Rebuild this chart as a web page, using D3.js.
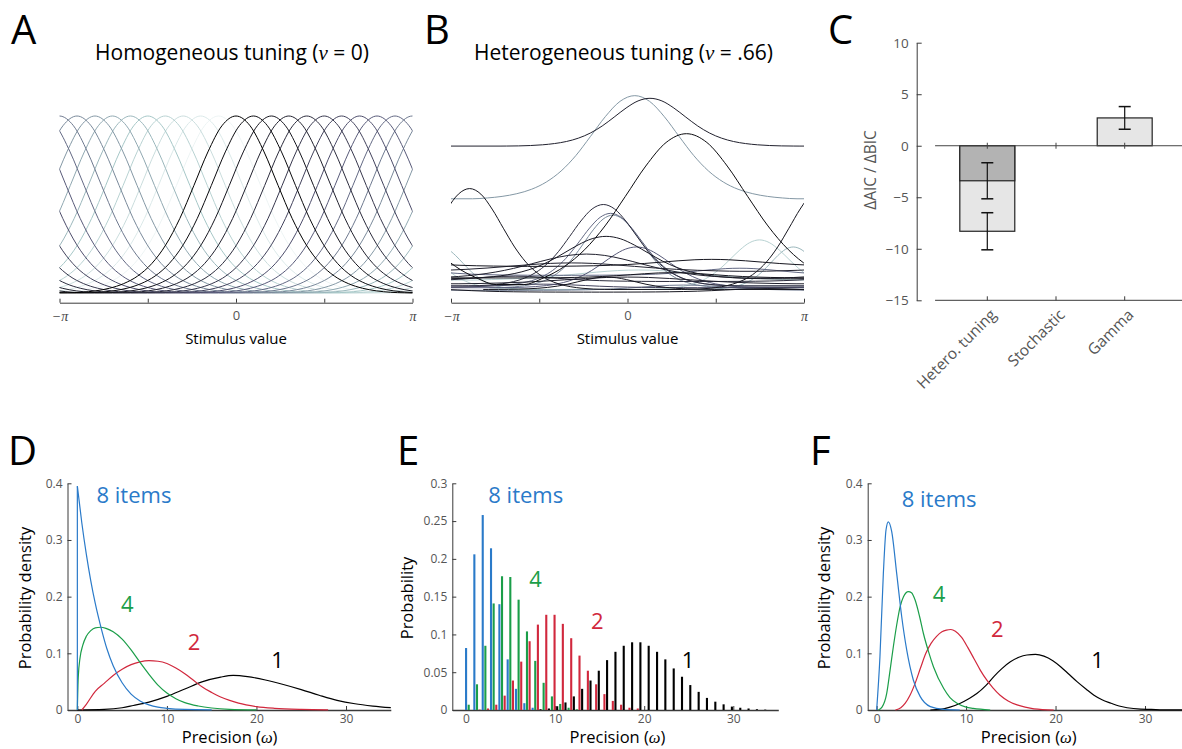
<!DOCTYPE html>
<html>
<head>
<meta charset="utf-8">
<title>Tuning heterogeneity and precision</title>
<script src="https://cdn.jsdelivr.net/npm/d3@7/dist/d3.min.js"></script>
<style>
  body { margin: 0; background: #fff; }
  svg { display: block; font-family: "Open Sans", sans-serif; }
</style>
</head>
<body>
<svg id="fig" width="1182" height="749"></svg>
<script>
var PI = Math.PI;

// ---------- data ----------

// shape of one tuning curve (panel A): offset from preferred stimulus (rad) and height rel. to peak
var bumpOffset = [0, 0.25, 0.5, 0.75, 1, 1.25, 1.5, 1.75, 2, 2.25, 2.5, 2.75, 3, 3.14];
var bumpHeight = [1, 0.945, 0.797, 0.607, 0.421, 0.272, 0.166, 0.096, 0.053, 0.027, 0.012, 0.004, 0.001, 0];

// panel A: preferred stimuli, ordered from the black neuron upwards
var aPref = [0, 0.31, 0.63, 0.94, 1.26, 1.57, 1.88, 2.2, 2.51, 2.83, 3.14,
             -2.83, -2.51, -2.2, -1.88, -1.57, -1.26, -0.94, -0.63, -0.31];

// panel B: heterogeneous neurons
var bPref  = [0.40, 0.13, 1.05, -2.81, -0.43, -0.30, -0.26, -0.38, -0.73, 0.16, 2.35, 2.95, -0.37, 0.20, 1.50, -1.00, 2.00, 0.80, -2.00, 0.00, -1.50, 1.00, 2.50];
var bBase  = [0.83, 0.53, 0.0, 0.02, 0.04, 0.04, 0.03, 0.08, 0.08, 0.03, 0.02, 0.02, 0.02, 0.07, 0.15, 0.12, 0.10, 0.085, 0.065, 0.05, 0.03, 0.015, 0.005];
var bAmp   = [0.27, 0.585, 0.9, 0.57, 0.46, 0.41, 0.41, 0.24, 0.14, 0.23, 0.28, 0.24, 0.07, 0.06, 0.04, 0.05, 0.04, 0.03, 0.03, 0.04, 0.02, 0.03, 0.02];
var bWidth = [0.85, 1.05, 1.45, 0.8, 0.8, 0.75, 0.7, 1.0, 1.3, 0.8, 0.7, 0.55, 0.7, 1.5, 1.2, 1.5, 1.0, 1.0, 1.0, 1.5, 1.0, 1.0, 1.0];
var bShade = [0.15, 0.6, 0.05, 0.1, 0.2, 0.45, 0.55, 0.12, 0.15, 0.4, 0.8, 0.7, 0.1, 0.8, 0.1, 0.15, 0.45, 0.1, 0.2, 0.15, 0.3, 0.5, 0.1];

// panel C: model comparison
var cModels = ['Hetero. tuning', 'Stochastic', 'Gamma'];
var cAic    = [-3.4, 0, 0];
var cAicErr = [1.75, 0, 0];
var cBic    = [-8.3, 0, 2.7];
var cBicErr = [1.8, 0, 1.1];
var cTicks  = [-15, -10, -5, 0, 5, 10];

var setNames = ['8 items', '4', '2', '1'];

// panel D: simulated precision densities
var d8x = [0, 0.5, 1, 1.5, 2, 2.65, 3.3, 4, 5, 6, 7, 8, 9, 10, 12, 15];
var d8y = [0.395, 0.33, 0.275, 0.228, 0.188, 0.145, 0.108, 0.078, 0.048, 0.028, 0.016, 0.009, 0.005, 0.003, 0.001, 0.0003];
var d4x = [0, 0.1, 0.3, 0.6, 1, 1.5, 2, 2.6, 3.2, 4, 5, 6, 7, 8, 9, 10, 11, 12, 13.5, 15, 17, 20];
var d4y = [0, 0.058, 0.092, 0.114, 0.13, 0.14, 0.145, 0.146, 0.144, 0.138, 0.125, 0.106, 0.084, 0.063, 0.044, 0.03, 0.02, 0.013, 0.007, 0.0035, 0.0012, 0.0003];
var d2x = [0.5, 1, 2, 3, 4, 5, 6, 7, 8, 9, 10, 11, 12, 13, 14, 15, 16, 17, 18, 20, 22, 25, 28];
var d2y = [0, 0.01, 0.033, 0.047, 0.061, 0.072, 0.08, 0.085, 0.087, 0.086, 0.082, 0.074, 0.064, 0.052, 0.04, 0.031, 0.023, 0.017, 0.012, 0.006, 0.003, 0.001, 0.0003];
var d1x = [0, 3, 5, 6.25, 8, 10, 12, 14, 16, 17.4, 19, 21, 23, 25, 27, 29, 31, 33, 35];
var d1y = [0, 0.001, 0.004, 0.008, 0.014, 0.024, 0.037, 0.05, 0.058, 0.061, 0.059, 0.053, 0.045, 0.036, 0.026, 0.017, 0.011, 0.007, 0.004];

// panel E: discrete precision (spike-count levels)
var eOmega = [0, 0.93, 1.87, 2.8, 3.74, 4.67, 5.6, 6.54, 7.47, 8.41, 9.34, 10.27, 11.21, 12.14, 13.08, 14.01, 14.94, 15.88, 16.81,
              17.75, 18.68, 19.61, 20.55, 21.48, 22.42, 23.35, 24.28, 25.22, 26.15, 27.09, 28.02, 28.95, 29.89, 30.82, 31.76, 32.69, 33.62, 34.56];
var e8 = [0.082, 0.206, 0.258, 0.214, 0.14, 0.067, 0.028, 0.009, 0.003, 0, 0, 0, 0, 0, 0, 0, 0, 0, 0,
          0, 0, 0, 0, 0, 0, 0, 0, 0, 0, 0, 0, 0, 0, 0, 0, 0, 0, 0];
var e4 = [0.007, 0.034, 0.085, 0.141, 0.177, 0.176, 0.146, 0.104, 0.065, 0.036, 0.018, 0.008, 0.003, 0.001, 0, 0, 0, 0, 0,
          0, 0, 0, 0, 0, 0, 0, 0, 0, 0, 0, 0, 0, 0, 0, 0, 0, 0, 0];
var e2 = [0, 0.0005, 0.002, 0.007, 0.019, 0.039, 0.064, 0.091, 0.113, 0.126, 0.126, 0.114, 0.095, 0.072, 0.052, 0.034, 0.021, 0.012, 0.007,
          0.003, 0.002, 0, 0, 0, 0, 0, 0, 0, 0, 0, 0, 0, 0, 0, 0, 0, 0, 0];
var e1 = [0, 0, 0, 0, 0, 0, 0, 0, 0.001, 0.002, 0.005, 0.01, 0.018, 0.028, 0.039, 0.052, 0.066, 0.077, 0.085,
          0.0896, 0.0896, 0.085, 0.077, 0.067, 0.055, 0.044, 0.033, 0.024, 0.016, 0.011, 0.0075, 0.0045, 0.003, 0.002, 0.001, 0.0005, 0, 0];

// panel F: gamma densities
var f8x = [0, 0.37, 0.75, 1.05, 1.31, 1.68, 2.24, 2.8, 3.36, 4.1, 4.86, 6, 7.5, 9.3];
var f8y = [0, 0.094, 0.241, 0.318, 0.332, 0.315, 0.241, 0.165, 0.106, 0.053, 0.024, 0.006, 0.001, 0];
var f4x = [0.19, 0.6, 1.12, 1.5, 1.87, 2.24, 2.62, 3.0, 3.55, 3.9, 4.3, 4.8, 5.23, 5.8, 6.36, 7.5, 8.2, 9, 10, 10.8, 12.7];
var f4y = [0, 0.005, 0.029, 0.07, 0.112, 0.15, 0.182, 0.2, 0.209, 0.207, 0.194, 0.165, 0.135, 0.103, 0.076, 0.038, 0.022, 0.012, 0.005, 0.003, 0];
var f2x = [2.1, 2.7, 3.2, 3.7, 4.3, 4.9, 5.5, 6.1, 6.7, 7.3, 7.8, 8.3, 8.8, 9.5, 10.2, 10.9, 11.6, 12.3, 13, 13.8, 14.7, 15.7, 16.6, 17.6, 19.8];
var f2y = [0, 0.004, 0.012, 0.025, 0.047, 0.074, 0.1, 0.118, 0.13, 0.138, 0.141, 0.142, 0.139, 0.128, 0.11, 0.09, 0.07, 0.053, 0.039, 0.026, 0.016, 0.009, 0.005, 0.002, 0];
var f1x = [6, 7.1, 8.2, 9.35, 10.3, 11.2, 12.2, 13.1, 14, 14.95, 15.9, 16.8, 17.76, 18.7, 19.7, 20.6, 21.5, 22.4, 23.4, 24.3, 25.2, 26.2, 27.1, 28, 29.5, 30.7, 32, 35];
var f1y = [0, 0.001, 0.005, 0.012, 0.02, 0.029, 0.043, 0.059, 0.073, 0.085, 0.093, 0.097, 0.098, 0.095, 0.087, 0.076, 0.063, 0.05, 0.037, 0.026, 0.018, 0.012, 0.007, 0.004, 0.0015, 0.001, 0.0003, 0];

// ---------- drawing ----------

var svg = d3.select('#fig');
var setColor = ['#2a7ac9', '#1b9e49', '#d1283d', '#000000'];
var axisGrey = '#3a3a3a', textGrey = '#555';

// MATLAB "bone" colormap
var bone = d3.scaleLinear().domain([0, 0.375, 0.75, 1])
  .range(['#000000', '#525273', '#a6c7c7', '#ffffff']);

function panelLetter(txt, x, y){
  svg.append('text').attr('x', x).attr('y', y).attr('font-size', 40).text(txt);
}

function styleAxis(g, fs){
  g.select('.domain').attr('stroke', axisGrey);
  g.selectAll('.tick line').attr('stroke', axisGrey);
  g.selectAll('.tick text').attr('fill', textGrey).attr('font-size', fs || 12)
    .attr('font-family', '"Open Sans", sans-serif');
}

// points of one circular tuning curve, copies at +-2pi so it wraps round
function tunePoints(pref, base, amp, w){
  var pts = [];
  [-2 * PI, 0, 2 * PI].forEach(function(shift){
    bumpOffset.forEach(function(o, j){
      var d = o * w;
      if (d > PI) return;
      pts.push([pref + shift + d, base + amp * bumpHeight[j]]);
      if (o > 0) pts.push([pref + shift - d, base + amp * bumpHeight[j]]);
    });
  });
  pts.sort(function(a, b){ return a[0] - b[0]; });
  return pts.filter(function(p){ return p[0] > -PI - 1.2 && p[0] < PI + 1.2; });
}

function tuningPanel(id, xRange, titleText, nuText, curves){
  var x = d3.scaleLinear().domain([-PI, PI]).range(xRange);
  var y = d3.scaleLinear().domain([0, 1]).range([293, 116]);

  svg.append('clipPath').attr('id', 'clip' + id).append('rect')
    .attr('x', xRange[0]).attr('y', 70).attr('width', xRange[1] - xRange[0]).attr('height', 230);

  var line = d3.line().x(function(d){ return x(d[0]); }).y(function(d){ return y(d[1]); })
    .curve(d3.curveMonotoneX);

  // lighter neurons underneath, darkest on top
  var sorted = curves.slice().sort(function(a, b){ return b.t - a.t; });
  svg.append('g').attr('clip-path', 'url(#clip' + id + ')')
    .selectAll('path').data(sorted).join('path')
    .attr('d', function(c){ return line(tunePoints(c.pref, c.base, c.amp, c.w)); })
    .attr('fill', 'none')
    .attr('stroke', function(c){ return bone(c.t); })
    .attr('stroke-width', 1);

  var ax = svg.append('g').attr('transform', 'translate(0,302.7)')
    .call(d3.axisBottom(x).tickValues([-PI, -PI / 2, 0, PI / 2, PI])
      .tickSizeInner(-4).tickSizeOuter(0).tickPadding(8)
      .tickFormat(function(d){ return d === 0 ? '0' : (Math.abs(d) === PI ? (d < 0 ? '\u2212\u03c0' : '\u03c0') : ''); }));
  styleAxis(ax, 13);
  ax.selectAll('.tick text').filter(function(d){ return d !== 0; })
    .attr('font-family', '"Liberation Serif", "DejaVu Serif", serif').attr('font-style', 'italic')
    .attr('font-size', 14).attr('fill', '#444');

  var mid = (xRange[0] + xRange[1]) / 2;
  svg.append('text').attr('x', mid).attr('y', 344).attr('text-anchor', 'middle')
    .attr('font-size', 15).text('Stimulus value');

  var t = svg.append('text').attr('x', mid - 4).attr('y', 60).attr('text-anchor', 'middle').attr('font-size', 21);
  t.append('tspan').text(titleText + ' (');
  t.append('tspan').attr('font-family', '"Liberation Serif", serif').attr('font-style', 'italic').text('\u03bd');
  t.append('tspan').text(' = ' + nuText + ')');
}

// ---- A ----
panelLetter('A', 11, 44);
tuningPanel('A', [59.5, 412.5], 'Homogeneous tuning', '0',
  aPref.map(function(p, i){ return { pref: p, base: 0, amp: 1, w: 1, t: i / 20 }; }));

// ---- B ----
panelLetter('B', 424, 44);
tuningPanel('B', [451, 804], 'Heterogeneous tuning', '.66',
  bPref.map(function(p, i){ return { pref: p, base: bBase[i], amp: bAmp[i], w: bWidth[i], t: bShade[i] }; }));

// ---- C ----
panelLetter('C', 828, 44);
(function(){
  var xC = d3.scaleLinear().domain([1, 3]).range([987.3, 1124.7]);
  var yC = d3.scaleLinear().domain([-15, 10]).range([300.3, 42.7]);
  var cXlim = [0.24, 3.84];
  var bw = xC(1.8) - xC(1);
  var g = svg.append('g');

  var ay = g.append('g').attr('transform', 'translate(916.7,0)')
    .call(d3.axisLeft(yC).tickValues(cTicks).tickSizeInner(-5).tickSizeOuter(0).tickPadding(8));
  styleAxis(ay, 13.5);

  // bottom axis line with category ticks
  g.append('line').attr('x1', xC(cXlim[0])).attr('x2', xC(cXlim[1]))
    .attr('y1', yC(-15)).attr('y2', yC(-15)).attr('stroke', axisGrey);
  g.selectAll('.btick').data(cModels).join('line').attr('class', 'btick')
    .attr('x1', function(d, i){ return xC(i + 1); }).attr('x2', function(d, i){ return xC(i + 1); })
    .attr('y1', yC(-15)).attr('y2', yC(-15) - 4).attr('stroke', axisGrey);

  // light bars (BIC) then dark bars (AIC) on top
  g.selectAll('.bic').data(cBic).join('rect').attr('class', 'bic')
    .attr('x', function(d, i){ return xC(i + 1) - bw / 2; }).attr('width', bw)
    .attr('y', function(d){ return yC(Math.max(d, 0)); })
    .attr('height', function(d){ return Math.abs(yC(d) - yC(0)); })
    .attr('fill', '#e6e6e6').attr('stroke', '#222').attr('stroke-width', 1.2)
    .style('display', function(d){ return d === 0 ? 'none' : null; });
  g.selectAll('.aic').data(cAic).join('rect').attr('class', 'aic')
    .attr('x', function(d, i){ return xC(i + 1) - bw / 2; }).attr('width', bw)
    .attr('y', function(d){ return yC(Math.max(d, 0)); })
    .attr('height', function(d){ return Math.abs(yC(d) - yC(0)); })
    .attr('fill', '#b3b3b3').attr('stroke', '#222').attr('stroke-width', 1.2)
    .style('display', function(d){ return d === 0 ? 'none' : null; });

  // zero line with its small ticks
  g.append('line').attr('x1', xC(cXlim[0])).attr('x2', xC(cXlim[1]))
    .attr('y1', yC(0)).attr('y2', yC(0)).attr('stroke', '#444');
  g.selectAll('.ztick').data(cModels).join('line').attr('class', 'ztick')
    .attr('x1', function(d, i){ return xC(i + 1); }).attr('x2', function(d, i){ return xC(i + 1); })
    .attr('y1', yC(0) - 3).attr('y2', yC(0) + 3).attr('stroke', '#444');

  function errBars(vals, errs){
    vals.forEach(function(v, i){
      var e = errs[i];
      if (!e) return;
      var cx = xC(i + 1);
      g.append('line').attr('x1', cx).attr('x2', cx).attr('y1', yC(v - e)).attr('y2', yC(v + e))
        .attr('stroke', '#111').attr('stroke-width', 1.2);
      [v - e, v + e].forEach(function(yy){
        g.append('line').attr('x1', cx - 6).attr('x2', cx + 6).attr('y1', yC(yy)).attr('y2', yC(yy))
          .attr('stroke', '#111').attr('stroke-width', 1.5);
      });
    });
  }
  errBars(cBic, cBicErr);
  errBars(cAic, cAicErr);

  cModels.forEach(function(m, i){
    g.append('text').attr('transform', 'translate(' + (xC(i + 1) + 6) + ',312) rotate(-45)')
      .attr('text-anchor', 'end').attr('dy', '0.35em').attr('font-size', 15.5)
      .attr('fill', textGrey).text(m);
  });

  g.append('text').attr('transform', 'translate(876,170) rotate(-90)')
    .attr('text-anchor', 'middle').attr('font-size', 15.5).attr('fill', textGrey)
    .text('\u0394AIC / \u0394BIC');
})();

// ---- D, E, F shared axes ----
function precisionAxes(xDom, xRange, yMax, yTicks, yLabel, yLabelX){
  var x = d3.scaleLinear().domain(xDom).range(xRange);
  var y = d3.scaleLinear().domain([0, yMax]).range([710, 483.3]);
  var gx = svg.append('g').attr('transform', 'translate(0,' + y(0) + ')')
    .call(d3.axisBottom(x).tickValues([0, 10, 20, 30]).tickSizeInner(-4).tickSizeOuter(0).tickPadding(4));
  var gy = svg.append('g').attr('transform', 'translate(' + xRange[0] + ',0)')
    .call(d3.axisLeft(y).tickValues(yTicks).tickFormat(d3.format('~g'))
      .tickSizeInner(-4).tickSizeOuter(0).tickPadding(5));
  styleAxis(gx); styleAxis(gy);
  gx.select('.domain').attr('stroke-width', 1.3);

  var xl = svg.append('text').attr('x', x(17)).attr('y', 743).attr('text-anchor', 'middle').attr('font-size', 16.5);
  xl.append('tspan').text('Precision (');
  xl.append('tspan').attr('font-family', '"Liberation Serif", serif').attr('font-style', 'italic').text('\u03c9');
  xl.append('tspan').text(')');

  svg.append('text').attr('transform', 'translate(' + yLabelX + ',598) rotate(-90)')
    .attr('text-anchor', 'middle').attr('font-size', 16.5).text(yLabel);
  return { x: x, y: y };
}

function setLabels(pos){
  pos.forEach(function(p, i){
    svg.append('text').attr('x', p[0]).attr('y', p[1]).attr('font-size', 22)
      .attr('text-anchor', i === 0 ? 'start' : 'middle')
      .attr('fill', setColor[i]).text(setNames[i]);
  });
}

function densityLines(s, xs, ys){
  var line = d3.line().x(function(d){ return s.x(d[0]); }).y(function(d){ return s.y(d[1]); })
    .curve(d3.curveMonotoneX);
  // draw black first so the small set sizes sit on top
  [3, 2, 1, 0].forEach(function(k){
    svg.append('path').datum(d3.zip(xs[k], ys[k]))
      .attr('d', line).attr('fill', 'none').attr('stroke', setColor[k]).attr('stroke-width', 1.2);
  });
}

// ---- D ----
panelLetter('D', 8, 465);
(function(){
  var s = precisionAxes([-1.1, 35], [67.5, 390.8], 0.4, [0, 0.1, 0.2, 0.3, 0.4], 'Probability density', 31);
  densityLines(s, [d8x, d4x, d2x, d1x], [d8y, d4y, d2y, d1y]);
  // density jumps up at zero for 8 items
  svg.append('line').attr('x1', s.x(d8x[0])).attr('x2', s.x(d8x[0]))
    .attr('y1', s.y(0)).attr('y2', s.y(d8y[0])).attr('stroke', setColor[0]).attr('stroke-width', 1.2);
  setLabels([[96.5, 503.3], [127.3, 611.7], [194, 650], [277.5, 668]]);
})();

// ---- E ----
panelLetter('E', 397, 465);
(function(){
  var s = precisionAxes([-1.54, 35.05], [452.3, 778.3], 0.3, [0, 0.05, 0.1, 0.15, 0.2, 0.25, 0.3], 'Probability', 413);
  var sub = d3.scaleBand().domain([0, 1, 2, 3]).range([0, 10]).paddingInner(0.2);
  var series = [e8, e4, e2, e1];
  series.forEach(function(vals, k){
    svg.append('g').selectAll('rect').data(vals).join('rect')
      .attr('x', function(d, i){ return s.x(eOmega[i]) + sub(k) - 1; })
      .attr('width', sub.bandwidth())
      .attr('y', function(d){ return s.y(d); })
      .attr('height', function(d){ return s.y(0) - s.y(d); })
      .attr('fill', setColor[k]);
  });
  setLabels([[488.3, 503.3], [535.5, 586.7], [597.2, 629.3], [688, 668.3]]);
})();

// ---- F ----
panelLetter('F', 810, 465);
(function(){
  var s = precisionAxes([-1, 35.2], [867.7, 1191.5], 0.4, [0, 0.1, 0.2, 0.3, 0.4], 'Probability density', 830);
  densityLines(s, [f8x, f4x, f2x, f1x], [f8y, f4y, f2y, f1y]);
  setLabels([[901.7, 506.7], [939, 601.7], [997.3, 636.7], [1097.5, 668.3]]);
})();
</script>
</body>
</html>
